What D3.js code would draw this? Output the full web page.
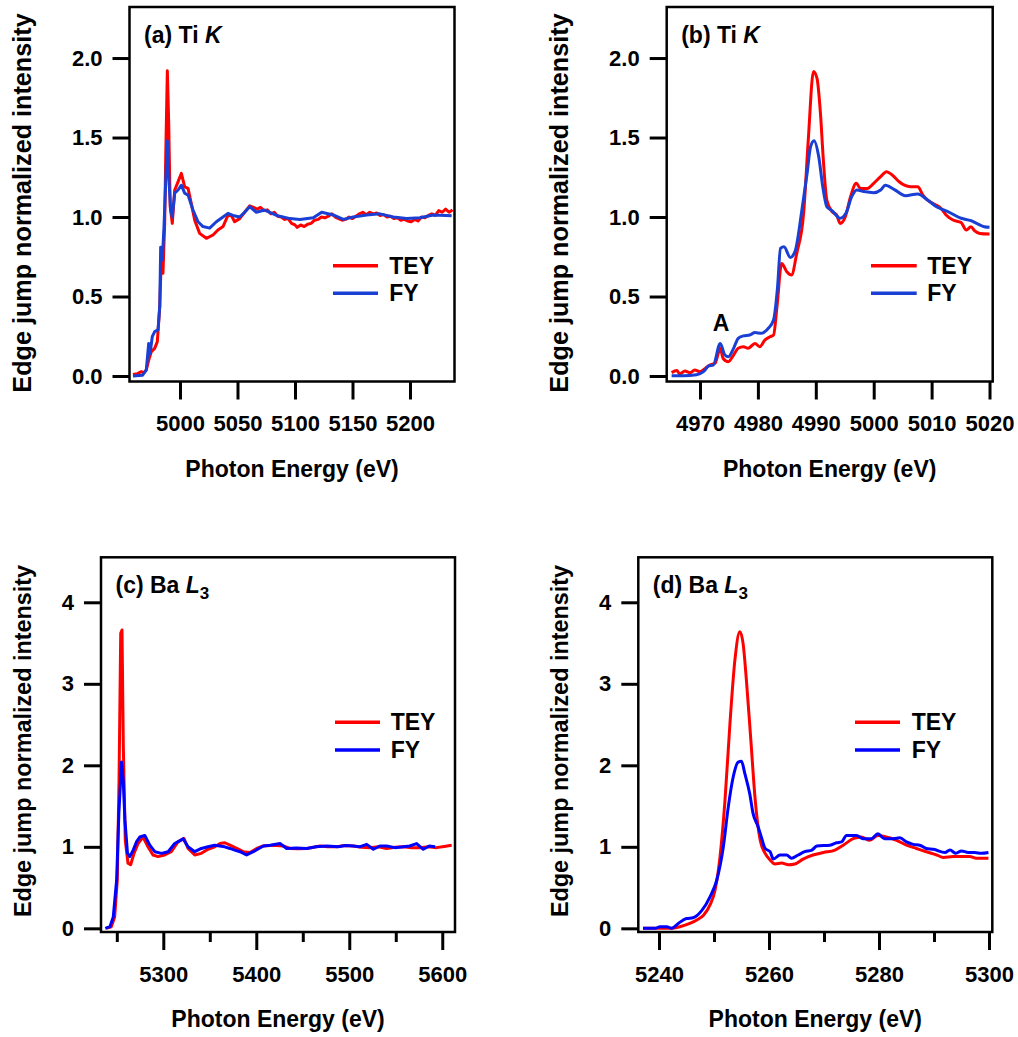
<!DOCTYPE html>
<html><head><meta charset="utf-8">
<script src="https://cdn.jsdelivr.net/npm/d3@7"></script>
<style>
body{margin:0;background:#fff}
svg text{font-family:'Liberation Sans',Arial,Helvetica,sans-serif;font-weight:bold;fill:#000}
</style>
</head><body>
<svg id="chart" width="1018" height="1037"></svg>
<script>
// ---------------- DATA ----------------
const seriesNames = ["TEY", "FY"];
const tiWideTicks = [5000, 5050, 5100, 5150, 5200];
const tiZoomTicks = [4970, 4980, 4990, 5000, 5010, 5020];
const baWideTicks = [5300, 5400, 5500, 5600];
const baWideMinor = [5250, 5350, 5450, 5550];
const baZoomTicks = [5240, 5260, 5280, 5300];
const baZoomMinor = [5250, 5270, 5290];
const tiYTicks = [0, 0.5, 1.0, 1.5, 2.0];
const baYTicks = [0, 1, 2, 3, 4];

// (a) Ti K, wide range  [energy eV, intensity]
const tiWideTEY = [[4959.1,0.01],[4963,0.015],[4966.4,0.027],[4968.5,0.02],[4970.7,0.038],[4972.8,0.10],[4975.1,0.153],[4978.0,0.174],[4980.3,0.216],[4982.4,0.436],[4983.8,0.75],[4985.2,0.646],[4986.7,0.96],[4987.6,1.38],[4989.0,1.92],[4990.2,1.59],[4991.5,1.065],[4993.3,0.96],[4995.4,1.17],[4997.7,1.21],[5001.2,1.275],[5004.1,1.19],[5007,1.18],[5009.8,1.086],[5012.8,0.98],[5017.1,0.897],[5022.9,0.866],[5028.7,0.887],[5033,0.918],[5037.4,0.94],[5041.7,1.01],[5044.6,1.01],[5047.5,0.97],[5051.9,0.99],[5056.2,1.03],[5060.6,1.07],[5064,1.06],[5067,1.05],[5070,1.06],[5073,1.04],[5076,1.045],[5079,1.02],[5082,1.03],[5085,1.005],[5088,1.0],[5091,0.985],[5094,0.99],[5097,0.96],[5100,0.95],[5102,0.935],[5105,0.95],[5108,0.94],[5111,0.955],[5114,0.96],[5117,0.98],[5120,0.985],[5123,1.0],[5126,0.995],[5129,1.005],[5132,1.02],[5135,1.0],[5138,0.99],[5141,0.98],[5144,0.985],[5147,1.0],[5150,0.99],[5153,1.005],[5156,1.02],[5159,1.03],[5162,1.015],[5165,1.03],[5168,1.02],[5171,1.025],[5174,1.01],[5177,1.015],[5180,1.0],[5183,1.005],[5186,0.99],[5189,0.995],[5192,0.98],[5195,0.985],[5198,0.975],[5201,0.97],[5204,0.985],[5207,0.975],[5210,1.0],[5213,0.995],[5216,1.01],[5219,1.02],[5222,1.01],[5225,1.04],[5228,1.03],[5231,1.05],[5234,1.03],[5237,1.045]];
const tiWideFY = [[4959.1,0.0],[4967.5,0.005],[4970.7,0.038],[4972.8,0.205],[4974,0.14],[4975.9,0.247],[4978.0,0.279],[4980.9,0.29],[4982.4,0.436],[4983.2,0.81],[4984.6,0.73],[4986.1,0.94],[4987.6,1.23],[4989.0,1.48],[4990.4,1.23],[4991.9,1.044],[4993.3,1.0],[4995.4,1.15],[4998.3,1.17],[5001.2,1.2],[5004.1,1.15],[5007,1.138],[5011.3,1.044],[5015.7,0.97],[5020,0.94],[5025.8,0.93],[5031.6,0.97],[5037.4,1.0],[5041.7,1.023],[5046,1.01],[5051.9,1.0],[5056.2,1.03],[5060.6,1.065],[5066.4,1.03],[5073.6,1.044],[5084,1.01],[5095.7,0.99],[5104.3,0.985],[5115.9,0.995],[5123.2,1.03],[5133.3,1.013],[5142,0.985],[5150.7,1.0],[5162.3,1.013],[5173.9,1.02],[5185.5,1.0],[5197.1,0.99],[5208.7,0.995],[5220.3,1.013],[5236.2,1.008]];

// (b) Ti K, edge region
const tiZoomTEY = [[4965.1,0.021],[4966,0.034],[4966.5,0.013],[4967.4,0.031],[4968.3,0.021],[4969.1,0.038],[4970.0,0.027],[4970.9,0.048],[4971.7,0.069],[4972.6,0.08],[4973.5,0.174],[4974.0,0.11],[4974.9,0.09],[4975.8,0.132],[4976.6,0.174],[4977.5,0.184],[4978.3,0.174],[4979.5,0.205],[4980.3,0.184],[4981.2,0.226],[4982.1,0.247],[4982.7,0.258],[4983.3,0.436],[4984.1,0.708],[4985.0,0.656],[4985.8,0.635],[4986.7,0.77],[4987.9,1.025],[4988.7,1.485],[4989.6,1.915],[4990.2,1.873],[4990.8,1.653],[4991.3,1.36],[4991.9,1.107],[4992.8,1.034],[4993.6,1.013],[4994.2,0.96],[4995.1,1.002],[4996.0,1.128],[4997.0,1.212],[4997.7,1.18],[4998.9,1.18],[5000.0,1.212],[5001.2,1.254],[5002.2,1.285],[5003.2,1.264],[5004.4,1.222],[5005.3,1.2],[5006.4,1.19],[5007.6,1.19],[5008.5,1.138],[5009.3,1.107],[5010.5,1.08],[5011.6,1.055],[5012.5,1.013],[5013.7,0.981],[5015.1,0.965],[5016.0,0.918],[5016.8,0.939],[5017.4,0.914],[5018.3,0.897],[5020.0,0.893]];
const tiZoomFY = [[4965.1,0.002],[4967.1,0.002],[4969.4,0.008],[4970.6,0.027],[4971.5,0.063],[4972.3,0.069],[4973.5,0.205],[4974.3,0.132],[4974.9,0.121],[4975.8,0.174],[4976.6,0.237],[4977.5,0.252],[4978.6,0.258],[4979.5,0.273],[4980.6,0.269],[4981.8,0.3],[4982.7,0.352],[4983.4,0.562],[4983.9,0.803],[4984.5,0.813],[4985.6,0.746],[4986.4,0.782],[4987.6,1.044],[4988.5,1.275],[4989.1,1.443],[4989.7,1.48],[4990.5,1.38],[4991.2,1.191],[4991.9,1.065],[4992.8,1.04],[4994.2,0.992],[4995.2,1.023],[4996.2,1.128],[4997.1,1.17],[4998.3,1.16],[5000.0,1.153],[5001.2,1.17],[5002.0,1.2],[5003.5,1.174],[5005.5,1.134],[5007.6,1.145],[5009.3,1.107],[5011.0,1.061],[5012.8,1.034],[5015.1,0.992],[5016.8,0.977],[5018.0,0.956],[5019.1,0.939],[5020.0,0.935]];

// (c) Ba L3, wide range
const baWideTEY = [[5238.7,0],[5244.1,0.02],[5247.7,0.14],[5250.5,0.59],[5252.4,1.82],[5254.2,3.62],[5255.6,3.66],[5257,2.23],[5259.1,1.08],[5262,0.80],[5264.9,0.78],[5268.5,0.92],[5272.8,1.04],[5278.2,1.12],[5283.5,1.0],[5288.9,0.90],[5294.3,0.88],[5301.5,0.90],[5308.6,0.94],[5315.8,1.06],[5322.3,1.10],[5326.6,0.98],[5333.8,0.90],[5340.9,0.92],[5348.1,0.97],[5355.3,1.0],[5361,1.04],[5366,1.05],[5371.7,1.02],[5379,0.98],[5386,0.94],[5393.2,0.93],[5400.4,0.98],[5407.5,1.01],[5418.3,1.02],[5429,1.01],[5436.2,0.98],[5445,0.975],[5454.2,0.98],[5462,0.995],[5468.5,1.01],[5477,1.0],[5486.5,1.0],[5495,1.015],[5504.3,1.01],[5513,0.995],[5522.3,0.99],[5531,1.0],[5540.2,0.98],[5549,0.995],[5558.1,1.0],[5567,0.99],[5576,0.99],[5585,1.0],[5594,0.99],[5602,1.005],[5610.1,1.02]];
const baWideFY = [[5237.6,0],[5242.6,0.02],[5246.2,0.14],[5249.8,0.59],[5252.2,1.41],[5255.1,2.04],[5256.9,1.82],[5258.7,1.33],[5261.5,0.92],[5264,0.88],[5267.6,0.96],[5271.1,1.06],[5274.7,1.12],[5280.1,1.14],[5285.5,1.02],[5290.8,0.94],[5298,0.92],[5305.2,0.94],[5312.3,1.04],[5321.3,1.10],[5326.6,1.0],[5333.8,0.94],[5340.9,0.98],[5348.1,1.0],[5355.3,1.02],[5366,1.0],[5371.7,0.98],[5376.8,0.96],[5382.5,0.94],[5389.6,0.90],[5396.8,0.94],[5407.5,1.01],[5415,1.02],[5425.5,1.04],[5432.6,0.98],[5443,0.985],[5454.2,0.98],[5464,1.0],[5475.7,1.01],[5488,1.0],[5496,1.015],[5504.3,1.01],[5511,1.0],[5518.7,1.03],[5525.9,0.97],[5533,1.01],[5540.2,1.01],[5549,0.99],[5558.1,1.0],[5565,1.01],[5572.4,1.04],[5579.6,0.97],[5586,1.01],[5592.2,1.0]];

// (d) Ba L3, edge region
const baZoomTEY = [[5237.1,0],[5240.2,0],[5242,0],[5243.8,0.02],[5245.6,0.06],[5246.8,0.10],[5248.1,0.16],[5249.3,0.29],[5250.2,0.47],[5251.1,0.88],[5252,1.57],[5252.9,2.51],[5253.8,3.29],[5254.7,3.64],[5255.3,3.49],[5255.9,3.04],[5256.7,2.31],[5257.5,1.57],[5258.4,1.08],[5259.3,0.92],[5260.2,0.84],[5261.1,0.79],[5262.3,0.80],[5263.5,0.78],[5264.7,0.79],[5266.2,0.85],[5268.0,0.90],[5269.9,0.93],[5272,0.96],[5273.5,1.02],[5275.3,1.10],[5276.8,1.12],[5278.3,1.08],[5279.8,1.14],[5281.3,1.12],[5283.2,1.08],[5285,1.02],[5286.8,0.98],[5288.6,0.94],[5290.5,0.90],[5291.7,0.87],[5293.5,0.88],[5296.5,0.88],[5297.7,0.86],[5299.9,0.86]];
const baZoomFY = [[5237.1,0],[5239.3,0],[5240.2,0.02],[5241.4,0.02],[5242.3,0.0],[5243.5,0.06],[5245,0.12],[5246.2,0.13],[5247.8,0.22],[5249.3,0.39],[5250.5,0.59],[5251.7,1.0],[5252.6,1.49],[5253.5,1.86],[5254.4,2.04],[5255,2.05],[5255.6,1.90],[5256.5,1.65],[5257.1,1.41],[5258,1.25],[5258.6,1.12],[5259.3,0.98],[5260.2,0.94],[5260.8,0.85],[5262,0.90],[5263.2,0.90],[5264.1,0.86],[5265.3,0.90],[5266.5,0.94],[5267.8,0.96],[5268.7,1.01],[5271.1,1.02],[5272.3,1.05],[5273.2,1.06],[5274.1,1.14],[5275.9,1.14],[5277.1,1.10],[5278.6,1.10],[5279.8,1.16],[5281,1.10],[5282.6,1.10],[5283.8,1.11],[5285,1.06],[5286.2,1.03],[5287.4,1.02],[5288.6,0.98],[5289.9,0.97],[5292,0.93],[5292.9,0.96],[5294,0.92],[5295,0.95],[5296.2,0.93],[5297.4,0.93],[5298.6,0.92],[5299.9,0.93]];

// ---------------- LAYOUT ----------------
const RED = "#ff0000";
const panels = [
  {left:129.5, right:454.5, top:7, bottom:381.5, xDomain:[4956.1,5238.7], yDomain:[-0.0346,2.321],
   xTicks:tiWideTicks, xMinor:[], yTicks:tiYTicks, yFmt:d3.format(".1f"), smooth:false,
   tey:tiWideTEY, fy:tiWideFY, blue:"#1a3fd4", tag:"(a)", el:"Ti", sym:"K", sub:"",
   leg:{x1:333,x2:378,yr:265.7,yb:293.3,tx:389.3}, yTitleX:31, yTitleY:203, yTitleSize:25.2},
  {left:666.7, right:992.7, top:7, bottom:381.5, xDomain:[4964.25,5020.55], yDomain:[-0.0346,2.321],
   xTicks:tiZoomTicks, xMinor:[], yTicks:tiYTicks, yFmt:d3.format(".1f"), smooth:true,
   tey:tiZoomTEY, fy:tiZoomFY, blue:"#1a3fd4", tag:"(b)", el:"Ti", sym:"K", sub:"",
   leg:{x1:871,x2:916.7,yr:265.7,yb:293.3,tx:927.3}, yTitleX:568, yTitleY:203, yTitleSize:25.2,
   note:{text:"A", x:721, y:331}},
  {left:101, right:455, top:557.3, bottom:932, xDomain:[5233.0,5613.7], yDomain:[-0.045,4.552],
   xTicks:baWideTicks, xMinor:baWideMinor, yTicks:baYTicks, yFmt:d3.format("d"), smooth:false,
   tey:baWideTEY, fy:baWideFY, blue:"#0000ff", tag:"(c)", el:"Ba", sym:"L", sub:"3",
   leg:{x1:335,x2:380,yr:722.3,yb:750,tx:390.7}, yTitleX:31, yTitleY:741, yTitleSize:23.4},
  {left:638.3, right:992.3, top:557.3, bottom:932, xDomain:[5236.24,5300.6], yDomain:[-0.045,4.552],
   xTicks:baZoomTicks, xMinor:baZoomMinor, yTicks:baYTicks, yFmt:d3.format("d"), smooth:true,
   tey:baZoomTEY, fy:baZoomFY, blue:"#0000ff", tag:"(d)", el:"Ba", sym:"L", sub:"3",
   leg:{x1:855,x2:900,yr:722.3,yb:750,tx:911.7}, yTitleX:568, yTitleY:741, yTitleSize:23.4}
];

const svg = d3.select("#chart");
svg.append("rect").attr("width",1018).attr("height",1037).attr("fill","#fff");

panels.forEach((p, i) => {
  const x = d3.scaleLinear().domain(p.xDomain).range([p.left, p.right]);
  const y = d3.scaleLinear().domain(p.yDomain).range([p.bottom, p.top]);
  const g = svg.append("g");

  const clipId = "clip" + i;
  svg.append("clipPath").attr("id", clipId).append("rect")
    .attr("x", p.left).attr("y", p.top).attr("width", p.right - p.left).attr("height", p.bottom - p.top);

  const line = d3.line().x(d => x(d[0])).y(d => y(d[1]))
    .curve(p.smooth ? d3.curveMonotoneX : d3.curveLinear);
  const curves = g.append("g").attr("clip-path", `url(#${clipId})`);
  curves.append("path").datum(p.tey).attr("d", line).attr("fill","none")
    .attr("stroke", RED).attr("stroke-width", 3).attr("stroke-linejoin","round");
  curves.append("path").datum(p.fy).attr("d", line).attr("fill","none")
    .attr("stroke", p.blue).attr("stroke-width", 3).attr("stroke-linejoin","round");

  // frame
  g.append("rect").attr("x", p.left).attr("y", p.top)
    .attr("width", p.right - p.left).attr("height", p.bottom - p.top)
    .attr("fill","none").attr("stroke","#000").attr("stroke-width",2.5);

  // x axis major
  const xa = g.append("g").attr("transform", `translate(0,${p.bottom})`)
    .call(d3.axisBottom(x).tickValues(p.xTicks).tickSize(18).tickPadding(16).tickSizeOuter(0).tickFormat(d3.format("d")));
  xa.select(".domain").remove();
  xa.selectAll("line").attr("stroke","#000").attr("stroke-width",3);
  xa.selectAll("text").style("font-size","22px");
  // x axis minor
  if (p.xMinor.length) {
    const xm = g.append("g").attr("transform", `translate(0,${p.bottom})`)
      .call(d3.axisBottom(x).tickValues(p.xMinor).tickSize(10).tickFormat(""));
    xm.select(".domain").remove();
    xm.selectAll("line").attr("stroke","#000").attr("stroke-width",3);
  }
  // y axis
  const ya = g.append("g").attr("transform", `translate(${p.left},0)`)
    .call(d3.axisLeft(y).tickValues(p.yTicks).tickSize(17).tickPadding(10).tickFormat(p.yFmt));
  ya.select(".domain").remove();
  ya.selectAll("line").attr("stroke","#000").attr("stroke-width",3);
  ya.selectAll("text").style("font-size","22px");

  // axis titles
  g.append("text").attr("x", (p.left + p.right) / 2).attr("y", p.bottom + 95)
    .attr("text-anchor","middle").style("font-size","23px").text("Photon Energy (eV)");
  g.append("text").attr("transform", `translate(${p.yTitleX},${p.yTitleY}) rotate(-90)`)
    .attr("text-anchor","middle").style("font-size", p.yTitleSize + "px").text("Edge jump normalized intensity");

  // panel label
  const lbl = g.append("text").attr("x", p.left + 14.5).attr("y", p.top + 36).style("font-size","23px");
  lbl.append("tspan").text(`${p.tag} ${p.el} `);
  lbl.append("tspan").style("font-style","italic").text(p.sym);
  if (p.sub) lbl.append("tspan").attr("dy", 6).style("font-size","17px").text(p.sub);

  // legend
  const cols = [RED, p.blue];
  const ys = [p.leg.yr, p.leg.yb];
  seriesNames.forEach((name, k) => {
    g.append("line").attr("x1", p.leg.x1).attr("x2", p.leg.x2).attr("y1", ys[k]).attr("y2", ys[k])
      .attr("stroke", cols[k]).attr("stroke-width", 3.5);
    g.append("text").attr("x", p.leg.tx).attr("y", ys[k] + 8).style("font-size","23px").text(name);
  });

  if (p.note) {
    g.append("text").attr("x", p.note.x).attr("y", p.note.y).attr("text-anchor","middle")
      .style("font-size","23px").text(p.note.text);
  }
});
</script>
</body></html>
